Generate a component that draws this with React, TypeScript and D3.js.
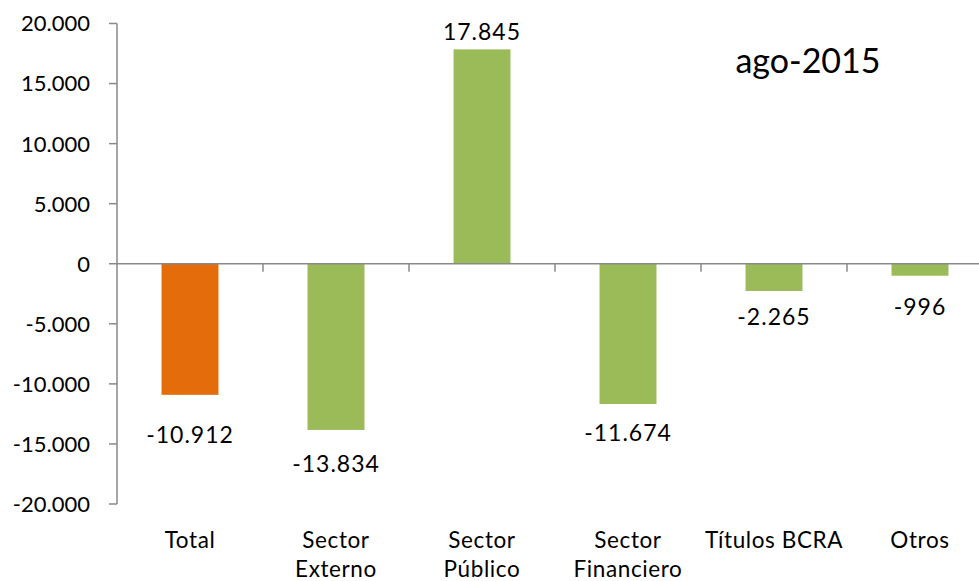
import React from "react";
import * as d3 from "d3";

const categories: string[][] = [
  ["Total"],
  ["Sector", "Externo"],
  ["Sector", "Público"],
  ["Sector", "Financiero"],
  ["Títulos BCRA"],
  ["Otros"],
];
const values: number[] = [-10912, -13834, 17845, -11674, -2265, -996];
const yTicks: number[] = [-20000, -15000, -10000, -5000, 0, 5000, 10000, 15000, 20000];
const title = "ago-2015";

// layout (label baseline offsets from bar end, px)
const LABEL_DY = [48, 42, -9, 37, 34, 39];

const W = 979;
const H = 581;
const FONT = "Lato, 'Open Sans', sans-serif";
const ORANGE = "#E46C0A";
const GREEN = "#9BBB59";
const AXIS = "#898989";

const locale = d3.formatLocale({
  decimal: ",",
  thousands: ".",
  grouping: [3],
  currency: ["", ""],
  minus: "-",
});
const fmt = locale.format(",d");

export default function App() {
  const keys = categories.map((c) => c.join(" "));
  const x = d3
    .scaleBand<string>()
    .domain(keys)
    .range([117, 993])
    .paddingInner(0.61)
    .paddingOuter(0.305);
  const y = d3.scaleLinear().domain([-20000, 20000]).range([504, 23.5]);
  const step = x.step();
  const bw = x.bandwidth();
  const y0 = y(0);

  return (
    <svg
      width={W}
      height={H}
      style={{ position: "absolute", left: 0, top: 0, background: "#fff" }}
      fontFamily={FONT}
    >
      <rect x={0} y={0} width={W} height={H} fill="#fff" />
      {/* bars */}
      {values.map((v, i) => {
        const cx = (x(keys[i]) as number) + bw / 2;
        const top = y(Math.max(0, v));
        const bot = y(Math.min(0, v));
        return (
          <rect
            key={"b" + i}
            x={cx - bw / 2}
            y={top}
            width={bw}
            height={bot - top}
            fill={i === 0 ? ORANGE : GREEN}
          />
        );
      })}
      {/* y axis */}
      <line x1={117} x2={117} y1={y(20000)} y2={y(-20000)} stroke={AXIS} strokeWidth={1.5} />
      {yTicks.map((t) => (
        <g key={"t" + t}>
          <line x1={109} x2={117} y1={y(t)} y2={y(t)} stroke={AXIS} strokeWidth={1.5} />
          <text
            x={90}
            y={y(t)}
            dy="0.36em"
            textAnchor="end"
            fontSize={22}
            fill="#000"
          >
            {fmt(t)}
          </text>
        </g>
      ))}
      {/* zero line / category axis */}
      <line x1={117} x2={993} y1={y0} y2={y0} stroke={AXIS} strokeWidth={1.5} />
      {keys.map((k, i) => {
        const bx = (x(k) as number) + bw / 2 + step / 2;
        return (
          <line
            key={"ct" + i}
            x1={bx}
            x2={bx}
            y1={y0}
            y2={y0 + 8}
            stroke={AXIS}
            strokeWidth={1.5}
          />
        );
      })}
      {/* category labels */}
      {categories.map((lines, i) => {
        const cx = (x(keys[i]) as number) + bw / 2;
        return (
          <text
            key={"cl" + i}
            textAnchor="middle"
            fontSize={22.5}
            letterSpacing={0.6}
            fill="#000"
          >
            {lines.map((ln, j) => (
              <tspan key={j} x={cx} y={548 + j * 29}>
                {ln}
              </tspan>
            ))}
          </text>
        );
      })}
      {/* value labels */}
      {values.map((v, i) => {
        const cx = (x(keys[i]) as number) + bw / 2;
        const end = y(v);
        return (
          <text
            key={"vl" + i}
            x={cx}
            y={end + LABEL_DY[i]}
            textAnchor="middle"
            fontSize={23}
            letterSpacing={1}
            fill="#000"
          >
            {fmt(v)}
          </text>
        );
      })}
      {/* title */}
      <text x={808} y={73} textAnchor="middle" fontSize={34} fill="#000">
        {title}
      </text>
    </svg>
  );
}
